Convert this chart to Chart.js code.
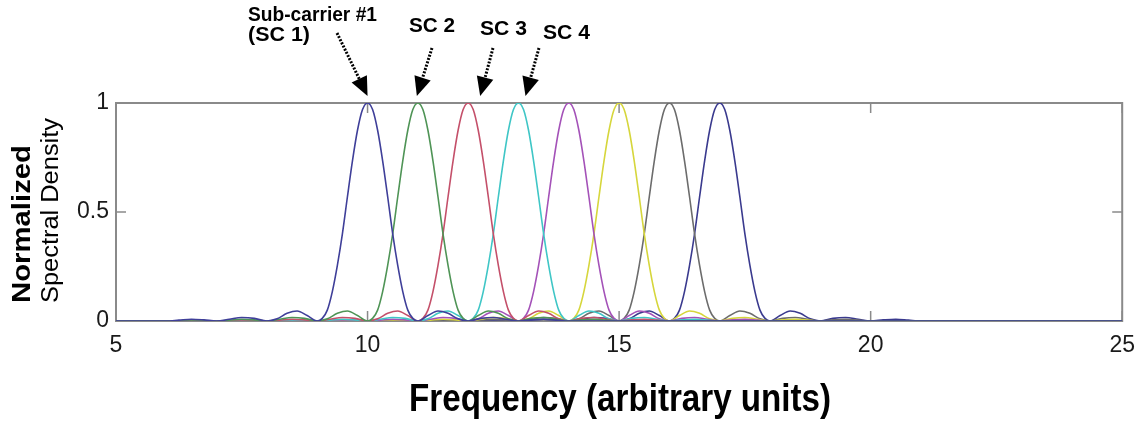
<!DOCTYPE html>
<html>
<head>
<meta charset="utf-8">
<script src="https://cdn.jsdelivr.net/npm/chart.js@4.4.1/dist/chart.umd.min.js"></script>
<style>
  html, body { margin: 0; padding: 0; background: #ffffff; }
  #wrap { width: 1146px; height: 433px; }
</style>
</head>
<body>
<div id="wrap"><canvas id="c" width="1146" height="433"></canvas></div>
<script>
// ---------------- DATA ----------------
const freqRange = [5, 25];
const xTickValues = [5, 10, 15, 20, 25];
const yTickValues = [0, 0.5, 1];
const carrierNames = ['SC 1', 'SC 2', 'SC 3', 'SC 4', 'SC 5', 'SC 6', 'SC 7', 'SC 8'];
const carrierCenters = [10, 11, 12, 13, 14, 15, 16, 17];
// frequency offsets from each sub-carrier centre at which values were read
const lobeOffsets = [-4, -3.75, -3.5, -3.25, -3, -2.75, -2.5, -2.25, -2, -1.8, -1.6, -1.4, -1.2, -1,
  -0.9, -0.8, -0.7, -0.6, -0.5, -0.4, -0.3, -0.2, -0.1, 0, 0.1, 0.2, 0.3, 0.4, 0.5, 0.6, 0.7, 0.8, 0.9,
  1, 1.2, 1.4, 1.6, 1.8, 2, 2.25, 2.5, 2.75, 3, 3.25, 3.5, 3.75, 4];
const sc1 = [0, 0.004, 0.008, 0.005, 0, 0.008, 0.016, 0.012, 0, 0.01, 0.035, 0.046, 0.025, 0,
  0.012, 0.05, 0.135, 0.255, 0.40, 0.57, 0.735, 0.875, 0.97, 1, 0.97, 0.875, 0.735, 0.57, 0.40, 0.255, 0.135, 0.05, 0.012,
  0, 0.025, 0.046, 0.035, 0.01, 0, 0.012, 0.016, 0.008, 0, 0.005, 0.008, 0.004, 0];
const sc2 = [0, 0.004, 0.008, 0.005, 0, 0.008, 0.016, 0.012, 0, 0.01, 0.035, 0.046, 0.025, 0,
  0.012, 0.05, 0.135, 0.255, 0.40, 0.57, 0.735, 0.875, 0.97, 1, 0.97, 0.875, 0.735, 0.57, 0.40, 0.255, 0.135, 0.05, 0.012,
  0, 0.025, 0.046, 0.035, 0.01, 0, 0.012, 0.016, 0.008, 0, 0.005, 0.008, 0.004, 0];
const sc3 = [0, 0.004, 0.008, 0.005, 0, 0.008, 0.016, 0.012, 0, 0.01, 0.035, 0.046, 0.025, 0,
  0.012, 0.05, 0.135, 0.255, 0.40, 0.57, 0.735, 0.875, 0.97, 1, 0.97, 0.875, 0.735, 0.57, 0.40, 0.255, 0.135, 0.05, 0.012,
  0, 0.025, 0.046, 0.035, 0.01, 0, 0.012, 0.016, 0.008, 0, 0.005, 0.008, 0.004, 0];
const sc4 = [0, 0.004, 0.008, 0.005, 0, 0.008, 0.016, 0.012, 0, 0.01, 0.035, 0.046, 0.025, 0,
  0.012, 0.05, 0.135, 0.255, 0.40, 0.57, 0.735, 0.875, 0.97, 1, 0.97, 0.875, 0.735, 0.57, 0.40, 0.255, 0.135, 0.05, 0.012,
  0, 0.025, 0.046, 0.035, 0.01, 0, 0.012, 0.016, 0.008, 0, 0.005, 0.008, 0.004, 0];
const sc5 = [0, 0.004, 0.008, 0.005, 0, 0.008, 0.016, 0.012, 0, 0.01, 0.035, 0.046, 0.025, 0,
  0.012, 0.05, 0.135, 0.255, 0.40, 0.57, 0.735, 0.875, 0.97, 1, 0.97, 0.875, 0.735, 0.57, 0.40, 0.255, 0.135, 0.05, 0.012,
  0, 0.025, 0.046, 0.035, 0.01, 0, 0.012, 0.016, 0.008, 0, 0.005, 0.008, 0.004, 0];
const sc6 = [0, 0.004, 0.008, 0.005, 0, 0.008, 0.016, 0.012, 0, 0.01, 0.035, 0.046, 0.025, 0,
  0.012, 0.05, 0.135, 0.255, 0.40, 0.57, 0.735, 0.875, 0.97, 1, 0.97, 0.875, 0.735, 0.57, 0.40, 0.255, 0.135, 0.05, 0.012,
  0, 0.025, 0.046, 0.035, 0.01, 0, 0.012, 0.016, 0.008, 0, 0.005, 0.008, 0.004, 0];
const sc7 = [0, 0.004, 0.008, 0.005, 0, 0.008, 0.016, 0.012, 0, 0.01, 0.035, 0.046, 0.025, 0,
  0.012, 0.05, 0.135, 0.255, 0.40, 0.57, 0.735, 0.875, 0.97, 1, 0.97, 0.875, 0.735, 0.57, 0.40, 0.255, 0.135, 0.05, 0.012,
  0, 0.025, 0.046, 0.035, 0.01, 0, 0.012, 0.016, 0.008, 0, 0.005, 0.008, 0.004, 0];
const sc8 = [0, 0.004, 0.008, 0.005, 0, 0.008, 0.016, 0.012, 0, 0.01, 0.035, 0.046, 0.025, 0,
  0.012, 0.05, 0.135, 0.255, 0.40, 0.57, 0.735, 0.875, 0.97, 1, 0.97, 0.875, 0.735, 0.57, 0.40, 0.255, 0.135, 0.05, 0.012,
  0, 0.025, 0.046, 0.035, 0.01, 0, 0.012, 0.016, 0.008, 0, 0.005, 0.008, 0.004, 0];
const seriesValues = [sc1, sc2, sc3, sc4, sc5, sc6, sc7, sc8];

const xTitle = 'Frequency (arbitrary units)';
const yTitleLines = ['Normalized', 'Spectral Density'];
const annotationLabels = [['Sub-carrier #1', '(SC 1)'], ['SC 2'], ['SC 3'], ['SC 4']];

// ---------------- STYLE ----------------
const seriesColors = ['#3f3f99', '#4f9456', '#c4506a', '#3fc6c6', '#a452b8', '#d6d63c', '#6c6c6c', '#3a3a8e'];
const axisGray = '#8a8a8a';
const FONT = '"Liberation Sans", Arial, sans-serif';

function buildSeries(center, values) {
  const pts = [{ x: freqRange[0], y: 0 }];
  lobeOffsets.forEach((o, i) => pts.push({ x: center + o, y: values[i] }));
  pts.push({ x: freqRange[1], y: 0 });
  return pts;
}

const datasets = carrierCenters.map((c, i) => ({
  label: carrierNames[i],
  data: buildSeries(c, seriesValues[i]),
  borderColor: seriesColors[i],
  borderWidth: 1.6,
  pointRadius: 0,
  fill: false,
  cubicInterpolationMode: 'monotone'
}));

function scaledText(ctx, text, x, y, font, targetW, color) {
  ctx.save();
  ctx.font = font;
  ctx.fillStyle = color || '#000';
  ctx.textAlign = 'left';
  ctx.textBaseline = 'alphabetic';
  const w = ctx.measureText(text).width;
  ctx.translate(x, y);
  ctx.scale(targetW / w, 1);
  ctx.fillText(text, 0, 0);
  ctx.restore();
}

const framePlugin = {
  id: 'frame',
  beforeDatasetsDraw(chart) {
    const { ctx, chartArea: a, scales } = chart;
    ctx.save();
    ctx.strokeStyle = axisGray;
    ctx.lineWidth = 2;
    ctx.strokeRect(a.left, a.top, a.right - a.left, a.bottom - a.top);
    ctx.lineWidth = 1.5;
    ctx.beginPath();
    xTickValues.forEach(v => {
      const px = scales.x.getPixelForValue(v);
      ctx.moveTo(px, a.bottom); ctx.lineTo(px, a.bottom - 10);
      ctx.moveTo(px, a.top); ctx.lineTo(px, a.top + 10);
    });
    yTickValues.forEach(v => {
      const py = scales.y.getPixelForValue(v);
      ctx.moveTo(a.left, py); ctx.lineTo(a.left + 10, py);
      ctx.moveTo(a.right, py); ctx.lineTo(a.right - 10, py);
    });
    ctx.stroke();
    ctx.restore();
  },
  afterDraw(chart) {
    const { ctx, chartArea: a, scales } = chart;
    // x-axis title
    const cx = (a.left + a.right) / 2;
    scaledText(ctx, xTitle, cx - 210, 411, 'bold 38px ' + FONT, 422, '#000');
    // y-axis title (rotated)
    ctx.save();
    ctx.translate(30, 303);
    ctx.rotate(-Math.PI / 2);
    scaledText(ctx, yTitleLines[0], 0, 0, 'bold 25px ' + FONT, 158, '#000');
    ctx.restore();
    ctx.save();
    ctx.translate(58, 303);
    ctx.rotate(-Math.PI / 2);
    scaledText(ctx, yTitleLines[1], 0, 0, '23px ' + FONT, 185, '#000');
    ctx.restore();

    // annotation labels
    const bold = 'bold 21px ' + FONT;
    scaledText(ctx, annotationLabels[0][0], 248, 21, bold, 129);
    scaledText(ctx, annotationLabels[0][1], 248, 41, bold, 62);
    scaledText(ctx, annotationLabels[1][0], 409, 31.5, bold, 46);
    scaledText(ctx, annotationLabels[2][0], 480, 35, bold, 47);
    scaledText(ctx, annotationLabels[3][0], 543, 38.5, bold, 47);

    // arrows: tail pixel and tip anchored to each carrier's peak
    const arrows = [
      { tail: [337, 33], c: carrierCenters[0], dx: 0 },
      { tail: [432, 48], c: carrierCenters[1], dx: -1 },
      { tail: [493, 48], c: carrierCenters[2], dx: 12 },
      { tail: [539, 48], c: carrierCenters[3], dx: 7 }
    ];
    arrows.forEach(ar => {
      const tx = scales.x.getPixelForValue(ar.c) + ar.dx;
      const ty = scales.y.getPixelForValue(1) - 7;
      const [sx, sy] = ar.tail;
      const ang = Math.atan2(ty - sy, tx - sx);
      const hl = 19, hw = 8.5;
      const bx = tx - hl * Math.cos(ang), by = ty - hl * Math.sin(ang);
      ctx.save();
      ctx.strokeStyle = '#000';
      ctx.lineWidth = 3;
      ctx.setLineDash([2, 1.5]);
      ctx.beginPath();
      ctx.moveTo(sx, sy);
      ctx.lineTo(bx, by);
      ctx.stroke();
      ctx.setLineDash([]);
      ctx.fillStyle = '#000';
      ctx.beginPath();
      ctx.moveTo(tx, ty);
      ctx.lineTo(bx + hw * Math.sin(ang), by - hw * Math.cos(ang));
      ctx.lineTo(bx - hw * Math.sin(ang), by + hw * Math.cos(ang));
      ctx.closePath();
      ctx.fill();
      ctx.restore();
    });
  }
};

new Chart(document.getElementById('c'), {
  type: 'line',
  data: { datasets },
  plugins: [framePlugin],
  options: {
    responsive: false,
    animation: false,
    events: [],
    layout: { padding: { top: 103, right: 21, left: 0, bottom: 0 } },
    plugins: { legend: { display: false }, tooltip: { enabled: false } },
    scales: {
      x: {
        type: 'linear',
        min: freqRange[0], max: freqRange[1],
        afterBuildTicks(scale) { scale.ticks = xTickValues.map(v => ({ value: v })); },
        afterFit(scale) { scale.height = 112; },
        grid: { display: false, drawTicks: false },
        border: { display: false },
        ticks: { padding: 11, color: '#1a1a1a', font: { family: FONT, size: 23 }, maxRotation: 0,
                 callback: v => String(v) }
      },
      y: {
        min: yTickValues[0], max: yTickValues[yTickValues.length - 1],
        afterBuildTicks(scale) { scale.ticks = yTickValues.map(v => ({ value: v })); },
        afterFit(scale) { scale.width = 116; },
        grid: { display: false, drawTicks: false },
        border: { display: false },
        ticks: { padding: 7, color: '#1a1a1a', font: { family: FONT, size: 23 },
                 callback: v => String(v) }
      }
    }
  }
});
</script>
</body>
</html>
